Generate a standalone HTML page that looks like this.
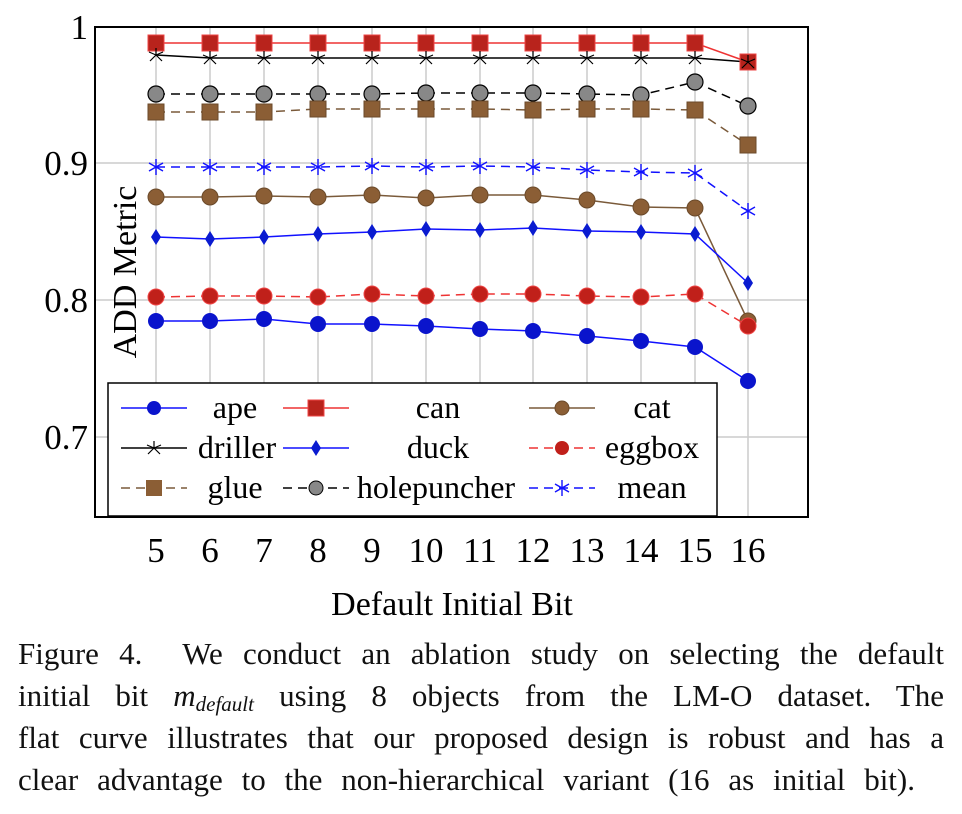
<!DOCTYPE html>
<html><head><meta charset="utf-8"><style>
body{margin:0;background:#fff;width:962px;height:814px;overflow:hidden;font-family:"Liberation Serif",serif}
.cap{position:absolute;left:18px;width:926px;top:633px;font-size:31px;line-height:42px;color:#111}
.cap div{text-align:justify;text-align-last:justify;white-space:nowrap;height:42px}
.cap div.l{width:897px}
.cap sub{font-size:21px;line-height:0;vertical-align:-5px}
</style></head><body>
<svg width="962" height="814" style="position:absolute;left:0;top:0" font-family="Liberation Serif, serif">
<defs>
<g id="sq"><rect x="-8" y="-8" width="16" height="16"/></g>
<g id="st" stroke-width="1.4"><path d="M0,-8V8M-7,-4L7,4M-7,4L7,-4"/></g>
<g id="st2" stroke-width="1.2"><path d="M0,-7V0M0,0L-6,6M0,0L6,6M0,0L-7,-3M0,0L7,-3"/></g>
</defs>
<g stroke="#ccc" stroke-width="1.5">
<line x1="156" y1="27" x2="156" y2="517"/><line x1="210" y1="27" x2="210" y2="517"/><line x1="264" y1="27" x2="264" y2="517"/><line x1="318" y1="27" x2="318" y2="517"/><line x1="372" y1="27" x2="372" y2="517"/><line x1="426" y1="27" x2="426" y2="517"/><line x1="480" y1="27" x2="480" y2="517"/><line x1="533" y1="27" x2="533" y2="517"/><line x1="587" y1="27" x2="587" y2="517"/><line x1="641" y1="27" x2="641" y2="517"/><line x1="695" y1="27" x2="695" y2="517"/><line x1="748" y1="27" x2="748" y2="517"/>
<line x1="95" y1="163" x2="808" y2="163"/><line x1="95" y1="300" x2="808" y2="300"/><line x1="95" y1="437" x2="808" y2="437"/>
</g>
<g font-size="35" text-anchor="end" fill="#000">
<text x="88" y="39">1</text><text x="88" y="175">0.9</text><text x="88" y="312">0.8</text><text x="88" y="449">0.7</text>
</g>
<g font-size="35" text-anchor="middle" fill="#000">
<text x="156" y="562">5</text><text x="210" y="562">6</text><text x="264" y="562">7</text><text x="318" y="562">8</text><text x="372" y="562">9</text><text x="426" y="562">10</text><text x="480" y="562">11</text><text x="533" y="562">12</text><text x="587" y="562">13</text><text x="641" y="562">14</text><text x="695" y="562">15</text><text x="748" y="562">16</text>
<text x="452" y="615" font-size="34">Default Initial Bit</text>
<text transform="translate(136,272) rotate(-90)" font-size="34">ADD Metric</text>
</g>
<polyline fill="none" stroke="#000" stroke-width="1.5" points="156,55 210,58 264,58 318,58 372,58 426,58 480,58 533,58 587,58 641,58 695,58 748,62"/>
<polyline fill="none" stroke="#e33" stroke-width="1.5" points="156,43 210,43 264,43 318,43 372,43 426,43 480,43 533,43 587,43 641,43 695,43 748,62"/>
<g fill="#b8231c" stroke="#e44" stroke-width="1"><use href="#sq" x="156" y="43"/><use href="#sq" x="210" y="43"/><use href="#sq" x="264" y="43"/><use href="#sq" x="318" y="43"/><use href="#sq" x="372" y="43"/><use href="#sq" x="426" y="43"/><use href="#sq" x="480" y="43"/><use href="#sq" x="533" y="43"/><use href="#sq" x="587" y="43"/><use href="#sq" x="641" y="43"/><use href="#sq" x="695" y="43"/><use href="#sq" x="748" y="62"/></g>
<g stroke="#000"><use href="#st2" x="156" y="55"/><use href="#st2" x="210" y="58"/><use href="#st2" x="264" y="58"/><use href="#st2" x="318" y="58"/><use href="#st2" x="372" y="58"/><use href="#st2" x="426" y="58"/><use href="#st2" x="480" y="58"/><use href="#st2" x="533" y="58"/><use href="#st2" x="587" y="58"/><use href="#st2" x="641" y="58"/><use href="#st2" x="695" y="58"/><use href="#st2" x="748" y="62"/></g>
<polyline fill="none" stroke="#000" stroke-width="1.5" stroke-dasharray="9,6" points="156,94 210,94 264,94 318,94 372,94 426,93 480,93 533,93 587,94 641,95 695,82 748,106"/>
<g fill="#888" stroke="#000" stroke-width="1.2"><circle cx="156" cy="94" r="8"/><circle cx="210" cy="94" r="8"/><circle cx="264" cy="94" r="8"/><circle cx="318" cy="94" r="8"/><circle cx="372" cy="94" r="8"/><circle cx="426" cy="93" r="8"/><circle cx="480" cy="93" r="8"/><circle cx="533" cy="93" r="8"/><circle cx="587" cy="94" r="8"/><circle cx="641" cy="95" r="8"/><circle cx="695" cy="82" r="8"/><circle cx="748" cy="106" r="8"/></g>
<polyline fill="none" stroke="#7a5a3a" stroke-width="1.5" stroke-dasharray="9,6" points="156,112 210,112 264,112 318,109 372,109 426,109 480,109 533,110 587,109 641,109 695,110 748,145"/>
<g fill="#8b5e35" stroke="#6b4a2a" stroke-width="1"><use href="#sq" x="156" y="112"/><use href="#sq" x="210" y="112"/><use href="#sq" x="264" y="112"/><use href="#sq" x="318" y="109"/><use href="#sq" x="372" y="109"/><use href="#sq" x="426" y="109"/><use href="#sq" x="480" y="109"/><use href="#sq" x="533" y="110"/><use href="#sq" x="587" y="109"/><use href="#sq" x="641" y="109"/><use href="#sq" x="695" y="110"/><use href="#sq" x="748" y="145"/></g>
<polyline fill="none" stroke="#11f" stroke-width="1.5" stroke-dasharray="9,6" points="156,167 210,167 264,167 318,167 372,166 426,167 480,166 533,167 587,170 641,172 695,173 748,211"/>
<g stroke="#11f"><use href="#st" x="156" y="167"/><use href="#st" x="210" y="167"/><use href="#st" x="264" y="167"/><use href="#st" x="318" y="167"/><use href="#st" x="372" y="166"/><use href="#st" x="426" y="167"/><use href="#st" x="480" y="166"/><use href="#st" x="533" y="167"/><use href="#st" x="587" y="170"/><use href="#st" x="641" y="172"/><use href="#st" x="695" y="173"/><use href="#st" x="748" y="211"/></g>
<polyline fill="none" stroke="#7a5a3a" stroke-width="1.5" points="156,197 210,197 264,196 318,197 372,195 426,198 480,195 533,195 587,200 641,207 695,208 748,321"/>
<g fill="#8b5e35" stroke="#6b4a2a" stroke-width="1"><circle cx="156" cy="197" r="8"/><circle cx="210" cy="197" r="8"/><circle cx="264" cy="196" r="8"/><circle cx="318" cy="197" r="8"/><circle cx="372" cy="195" r="8"/><circle cx="426" cy="198" r="8"/><circle cx="480" cy="195" r="8"/><circle cx="533" cy="195" r="8"/><circle cx="587" cy="200" r="8"/><circle cx="641" cy="207" r="8"/><circle cx="695" cy="208" r="8"/><circle cx="748" cy="321" r="8"/></g>
<polyline fill="none" stroke="#11f" stroke-width="1.5" points="156,237 210,239 264,237 318,234 372,232 426,229 480,230 533,228 587,231 641,232 695,234 748,283"/>
<g fill="#0a1bd0"><path d="M156,229l5,8l-5,8l-5,-8z"/><path d="M210,231l5,8l-5,8l-5,-8z"/><path d="M264,229l5,8l-5,8l-5,-8z"/><path d="M318,226l5,8l-5,8l-5,-8z"/><path d="M372,224l5,8l-5,8l-5,-8z"/><path d="M426,221l5,8l-5,8l-5,-8z"/><path d="M480,222l5,8l-5,8l-5,-8z"/><path d="M533,220l5,8l-5,8l-5,-8z"/><path d="M587,223l5,8l-5,8l-5,-8z"/><path d="M641,224l5,8l-5,8l-5,-8z"/><path d="M695,226l5,8l-5,8l-5,-8z"/><path d="M748,275l5,8l-5,8l-5,-8z"/></g>
<polyline fill="none" stroke="#e33" stroke-width="1.5" stroke-dasharray="9,6" points="156,297 210,296 264,296 318,297 372,294 426,296 480,294 533,294 587,296 641,297 695,294 748,326"/>
<g fill="#c0201a" stroke="#e44" stroke-width="1"><circle cx="156" cy="297" r="8"/><circle cx="210" cy="296" r="8"/><circle cx="264" cy="296" r="8"/><circle cx="318" cy="297" r="8"/><circle cx="372" cy="294" r="8"/><circle cx="426" cy="296" r="8"/><circle cx="480" cy="294" r="8"/><circle cx="533" cy="294" r="8"/><circle cx="587" cy="296" r="8"/><circle cx="641" cy="297" r="8"/><circle cx="695" cy="294" r="8"/><circle cx="748" cy="326" r="8"/></g>
<polyline fill="none" stroke="#11f" stroke-width="1.5" points="156,321 210,321 264,319 318,324 372,324 426,326 480,329 533,331 587,336 641,341 695,347 748,381"/>
<g fill="#0a14cc"><circle cx="156" cy="321" r="8"/><circle cx="210" cy="321" r="8"/><circle cx="264" cy="319" r="8"/><circle cx="318" cy="324" r="8"/><circle cx="372" cy="324" r="8"/><circle cx="426" cy="326" r="8"/><circle cx="480" cy="329" r="8"/><circle cx="533" cy="331" r="8"/><circle cx="587" cy="336" r="8"/><circle cx="641" cy="341" r="8"/><circle cx="695" cy="347" r="8"/><circle cx="748" cy="381" r="8"/></g>
<rect x="108" y="383" width="609" height="133" fill="#fff" stroke="#000" stroke-width="1.5"/>
<g font-size="32" text-anchor="middle" fill="#000">
<text x="235" y="418">ape</text><text x="438" y="418">can</text><text x="652" y="418">cat</text>
<text x="237" y="458">driller</text><text x="438" y="458">duck</text><text x="652" y="458">eggbox</text>
<text x="235" y="498">glue</text><text x="436" y="498">holepuncher</text><text x="652" y="498">mean</text>
</g>
<line x1="121" y1="408" x2="187" y2="408" stroke="#11f" stroke-width="1.5"/><circle cx="154" cy="408" r="7" fill="#0a14cc"/>
<line x1="283" y1="408" x2="349" y2="408" stroke="#e33" stroke-width="1.5"/><use href="#sq" x="316" y="408" fill="#b8231c" stroke="#e44"/>
<line x1="529" y1="408" x2="595" y2="408" stroke="#7a5a3a" stroke-width="1.5"/><circle cx="562" cy="408" r="7" fill="#8b5e35" stroke="#6b4a2a"/>
<line x1="121" y1="448" x2="187" y2="448" stroke="#000" stroke-width="1.5"/><use href="#st2" x="154" y="448" stroke="#000"/>
<line x1="283" y1="448" x2="349" y2="448" stroke="#11f" stroke-width="1.5"/><path d="M316,440l5,8l-5,8l-5,-8z" fill="#0a1bd0"/>
<line x1="529" y1="448" x2="595" y2="448" stroke="#e33" stroke-width="1.5" stroke-dasharray="9,6"/><circle cx="562" cy="448" r="7" fill="#c0201a"/>
<line x1="121" y1="488" x2="187" y2="488" stroke="#7a5a3a" stroke-width="1.5" stroke-dasharray="9,6"/><use href="#sq" x="154" y="488" fill="#8b5e35"/>
<line x1="283" y1="488" x2="349" y2="488" stroke="#000" stroke-width="1.5" stroke-dasharray="9,6"/><circle cx="316" cy="488" r="7" fill="#888" stroke="#000"/>
<line x1="529" y1="488" x2="595" y2="488" stroke="#11f" stroke-width="1.5" stroke-dasharray="9,6"/><use href="#st" x="562" y="488" stroke="#11f"/>
<rect x="95" y="27" width="713" height="490" fill="none" stroke="#000" stroke-width="2"/>
</svg>
<div class="cap">
<div>Figure 4.&nbsp; We conduct an ablation study on selecting the default</div>
<div>initial bit <i>m<sub>default</sub></i> using 8 objects from the LM-O dataset. The</div>
<div>flat curve illustrates that our proposed design is robust and has a</div>
<div class="l">clear advantage to the non-hierarchical variant (16 as initial bit).</div>
</div>
</body></html>
